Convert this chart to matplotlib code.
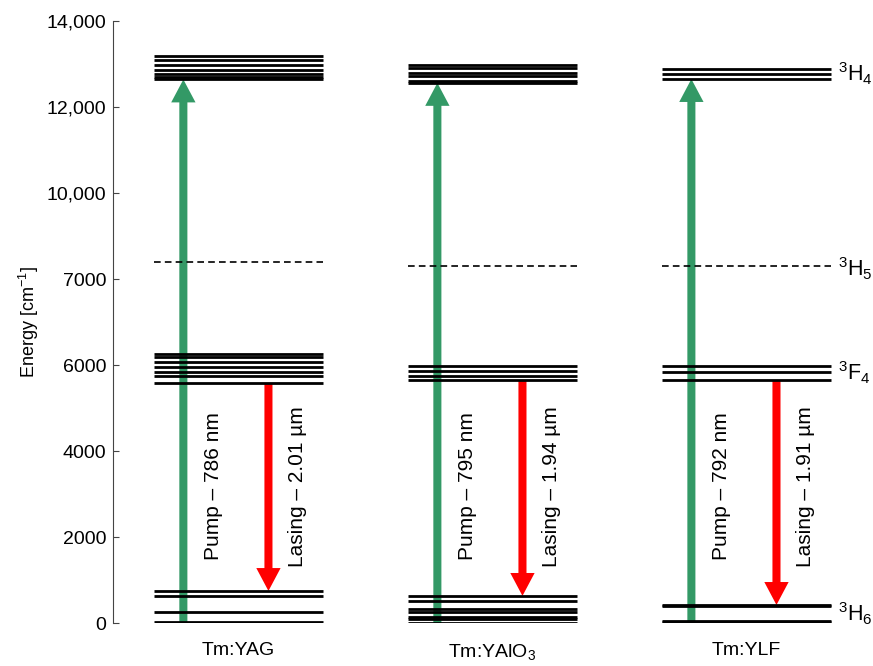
import matplotlib
matplotlib.use('Agg')
import matplotlib.pyplot as plt
from matplotlib.patches import FancyArrowPatch, ArrowStyle

plt.rcParams['font.family'] = 'Liberation Sans'
plt.rcParams['mathtext.fontset'] = 'custom'
plt.rcParams['mathtext.rm'] = 'Liberation Sans'
plt.rcParams['mathtext.it'] = 'Liberation Sans:italic'
plt.rcParams['mathtext.default'] = 'regular'

crystals = ['Tm:YAG', 'Tm:YAlO$_3$', 'Tm:YLF']
pump_nm = [786, 795, 792]
lasing_um = [2.01, 1.94, 1.91]

# Stark levels in cm^-1
h4_levels = [[12640, 12700, 12770, 12865, 12985, 13090, 13185],
             [12560, 12615, 12710, 12800, 12905, 12975],
             [12650, 12770, 12880]]
h5_levels = [8395, 8300, 8300]
f4_levels = [[5575, 5755, 5845, 5960, 6075, 6185, 6255],
             [5645, 5750, 5865, 5975],
             [5645, 5845, 5975]]
h6_levels = [[15, 265, 630, 745],
             [5, 95, 150, 255, 325, 510, 630],
             [25, 55, 385, 420]]

multiplets = ['$^3$H$_4$', '$^3$H$_5$', '$^3$F$_4$', '$^3$H$_6$']

yticks = [0, 2000, 4000, 6000, 8000, 10000, 12000, 14000]
yticklabels = ['0', '2000', '4000', '6000', '7000', '10,000', '12,000', '14,000']

green = '#339966'
red = '#ff0000'
half_w = 0.333
pump_dx = -0.217
lase_dx = 0.118

fig = plt.figure(figsize=(8.73, 6.66), dpi=100)
ax = fig.add_axes([113/873, 43/666, 760/873, 602/666])

for i in range(len(crystals)):
    for group in (h4_levels[i], f4_levels[i], h6_levels[i]):
        ax.hlines(group, i - half_w, i + half_w, color='black', lw=2.0)
    ax.hlines(h5_levels[i], i - half_w, i + half_w, color='black', lw=1.2,
              linestyles=(0, (4, 2.5)))

    pump = FancyArrowPatch((i + pump_dx, 0), (i + pump_dx, min(h4_levels[i])),
                           arrowstyle=ArrowStyle.Simple(head_length=16.5, head_width=17.5, tail_width=5.8),
                           mutation_scale=1, color=green, lw=0, shrinkA=0, shrinkB=0)
    ax.add_patch(pump)
    lase = FancyArrowPatch((i + lase_dx, min(f4_levels[i])), (i + lase_dx, max(h6_levels[i])),
                           arrowstyle=ArrowStyle.Simple(head_length=16.5, head_width=17.5, tail_width=5.8),
                           mutation_scale=1, color=red, lw=0, shrinkA=0, shrinkB=0)
    ax.add_patch(lase)

    ax.text(i - 0.1, 3180, 'Pump \u2013 %d nm' % pump_nm[i], rotation=90,
            ha='center', va='center', fontsize=15)
    ax.text(i + 0.232, 3180, 'Lasing \u2013 %.2f \u00b5m' % lasing_um[i], rotation=90,
            ha='center', va='center', fontsize=15)

# multiplet names next to the last column
last = len(crystals) - 1
label_y = [sum(h4_levels[last]) / len(h4_levels[last]), h5_levels[last] - 60,
           sum(f4_levels[last]) / len(f4_levels[last]), sum(h6_levels[last]) / len(h6_levels[last])]
for name, yy in zip(multiplets, label_y):
    ax.text(last + 0.36, yy, name, ha='left', va='center', fontsize=15.5)

ax.set_xlim(-0.494, 2.498)
ax.set_ylim(0, 14000)
ax.set_yticks(yticks, yticklabels)
ax.set_xticks(range(len(crystals)), crystals)
ax.tick_params(axis='x', length=0, pad=14, labelsize=14)
ax.tick_params(axis='y', direction='in', length=4, color='#444444', labelsize=14, pad=5)
for s in ['top', 'right', 'bottom']:
    ax.spines[s].set_visible(False)
ax.spines['left'].set_color('#444444')
ax.set_ylabel('Energy [cm$^{-1}$]', fontsize=13, labelpad=4)

fig.savefig('out.png', dpi=100)
